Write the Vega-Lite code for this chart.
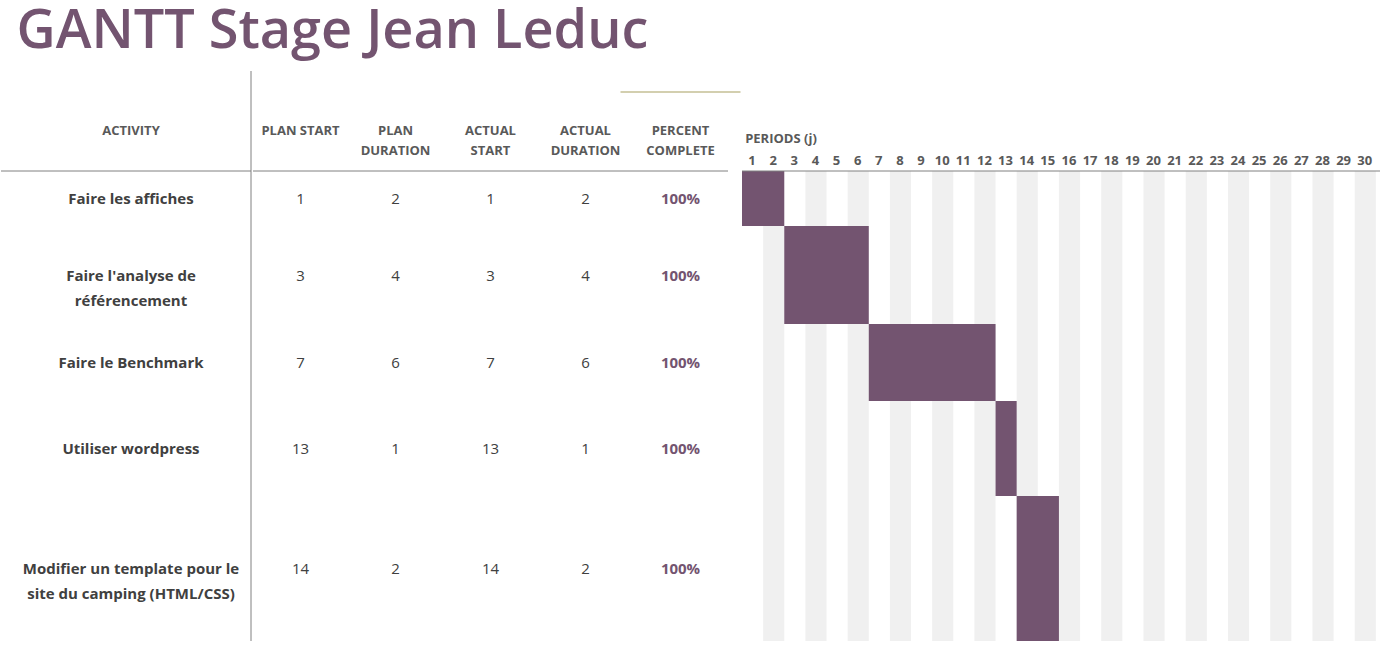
{
  "$schema": "https://vega.github.io/schema/vega-lite/v6.json",
  "padding": {"left": 0, "top": 4, "right": 0, "bottom": 0},
  "background": "white",
  "title": {"text": "GANTT Stage Jean Leduc", "anchor": "start", "fontSize": 54, "font": "Open Sans", "fontWeight": 600, "color": "#735470", "offset": 12, "dx": 16},
  "datasets": {
    "tasks": [
      {"task": "Faire les affiches", "top": 1.0, "bottom": 1.55, "mid": 1.28, "start": 1, "end": 3},
      {"task": "Faire l'analyse de\nréférencement", "top": 1.55, "bottom": 2.53, "mid": 2.05, "start": 3, "end": 7},
      {"task": "Faire le Benchmark", "top": 2.53, "bottom": 3.3, "mid": 2.92, "start": 7, "end": 13},
      {"task": "Utiliser wordpress", "top": 3.3, "bottom": 4.25, "mid": 3.78, "start": 13, "end": 14},
      {"task": "Modifier un template pour le\nsite du camping (HTML/CSS)", "top": 4.25, "bottom": 5.7, "mid": 4.98, "start": 14, "end": 16}
    ],
    "cells": [
      {"col": "PLAN START", "mid": 1.28, "v": "1"}, {"col": "PLAN\nDURATION", "mid": 1.28, "v": "2"}, {"col": "ACTUAL\nSTART", "mid": 1.28, "v": "1"}, {"col": "ACTUAL\nDURATION", "mid": 1.28, "v": "2"}, {"col": "PERCENT\nCOMPLETE", "mid": 1.28, "v": "100%"},
      {"col": "PLAN START", "mid": 2.05, "v": "3"}, {"col": "PLAN\nDURATION", "mid": 2.05, "v": "4"}, {"col": "ACTUAL\nSTART", "mid": 2.05, "v": "3"}, {"col": "ACTUAL\nDURATION", "mid": 2.05, "v": "4"}, {"col": "PERCENT\nCOMPLETE", "mid": 2.05, "v": "100%"},
      {"col": "PLAN START", "mid": 2.92, "v": "7"}, {"col": "PLAN\nDURATION", "mid": 2.92, "v": "6"}, {"col": "ACTUAL\nSTART", "mid": 2.92, "v": "7"}, {"col": "ACTUAL\nDURATION", "mid": 2.92, "v": "6"}, {"col": "PERCENT\nCOMPLETE", "mid": 2.92, "v": "100%"},
      {"col": "PLAN START", "mid": 3.78, "v": "13"}, {"col": "PLAN\nDURATION", "mid": 3.78, "v": "1"}, {"col": "ACTUAL\nSTART", "mid": 3.78, "v": "13"}, {"col": "ACTUAL\nDURATION", "mid": 3.78, "v": "1"}, {"col": "PERCENT\nCOMPLETE", "mid": 3.78, "v": "100%"},
      {"col": "PLAN START", "mid": 4.98, "v": "14"}, {"col": "PLAN\nDURATION", "mid": 4.98, "v": "2"}, {"col": "ACTUAL\nSTART", "mid": 4.98, "v": "14"}, {"col": "ACTUAL\nDURATION", "mid": 4.98, "v": "2"}, {"col": "PERCENT\nCOMPLETE", "mid": 4.98, "v": "100%"}
    ],
    "headers": [
      {"col": "PLAN START"}, {"col": "PLAN\nDURATION"}, {"col": "ACTUAL\nSTART"}, {"col": "ACTUAL\nDURATION"}, {"col": "PERCENT\nCOMPLETE"}
    ],
    "days": [
      {"d": 1, "next": 2, "even": false}, {"d": 2, "next": 3, "even": true}, {"d": 3, "next": 4, "even": false}, {"d": 4, "next": 5, "even": true}, {"d": 5, "next": 6, "even": false},
      {"d": 6, "next": 7, "even": true}, {"d": 7, "next": 8, "even": false}, {"d": 8, "next": 9, "even": true}, {"d": 9, "next": 10, "even": false}, {"d": 10, "next": 11, "even": true},
      {"d": 11, "next": 12, "even": false}, {"d": 12, "next": 13, "even": true}, {"d": 13, "next": 14, "even": false}, {"d": 14, "next": 15, "even": true}, {"d": 15, "next": 16, "even": false},
      {"d": 16, "next": 17, "even": true}, {"d": 17, "next": 18, "even": false}, {"d": 18, "next": 19, "even": true}, {"d": 19, "next": 20, "even": false}, {"d": 20, "next": 21, "even": true},
      {"d": 21, "next": 22, "even": false}, {"d": 22, "next": 23, "even": true}, {"d": 23, "next": 24, "even": false}, {"d": 24, "next": 25, "even": true}, {"d": 25, "next": 26, "even": false},
      {"d": 26, "next": 27, "even": true}, {"d": 27, "next": 28, "even": false}, {"d": 28, "next": 29, "even": true}, {"d": 29, "next": 30, "even": false}, {"d": 30, "next": 31, "even": true}
    ]
  },
  "spacing": 0,
  "hconcat": [
    {
      "width": 250, "height": 570,
      "encoding": {
        "y": {"type": "quantitative", "scale": {"domain": [0, 5.7], "reverse": true, "nice": false, "zero": false}},
        "x": {"type": "quantitative", "scale": {"domain": [0, 1], "nice": false}}
      },
      "layer": [
        {"data": {"values": [{"h": "ACTIVITY"}]}, "mark": {"type": "text", "font": "Open Sans", "fontWeight": "bold", "fontSize": 13, "color": "#595959"},
         "encoding": {"text": {"field": "h"}, "x": {"datum": 0.52}, "y": {"datum": 0.6}}},
        {"data": {"name": "tasks"}, "mark": {"type": "text", "font": "Open Sans", "fontWeight": "bold", "fontSize": 15, "color": "#404040", "lineBreak": "\n", "lineHeight": 25},
         "encoding": {"text": {"field": "task"}, "x": {"datum": 0.52}, "y": {"field": "mid"}}},
        {"data": {"values": [{}]}, "mark": {"type": "rule", "color": "#808080"}, "encoding": {"y": {"datum": 1.0}}},
        {"data": {"values": [{}]}, "mark": {"type": "rule", "color": "#808080"}, "encoding": {"x": {"datum": 1.0}}}
      ]
    },
    {
      "width": 475, "height": 570,
      "encoding": {
        "y": {"type": "quantitative", "scale": {"domain": [0, 5.7], "reverse": true, "nice": false, "zero": false}},
        "x": {"field": "col", "type": "nominal", "sort": ["PLAN START", "PLAN\nDURATION", "ACTUAL\nSTART", "ACTUAL\nDURATION", "PERCENT\nCOMPLETE"], "scale": {"paddingInner": 0, "paddingOuter": 0}}
      },
      "layer": [
        {"data": {"values": [{"col": "PERCENT\nCOMPLETE"}]}, "mark": {"type": "rect", "color": "#a8a060", "width": 120},
         "encoding": {"y": {"datum": 0.205}, "y2": {"datum": 0.215}}},
        {"data": {"name": "headers"}, "mark": {"type": "text", "font": "Open Sans", "fontWeight": "bold", "fontSize": 13, "color": "#595959", "lineBreak": "\n", "lineHeight": 20},
         "encoding": {"text": {"field": "col"}, "y": {"datum": 0.6}}},
        {"data": {"name": "cells"}, "transform": [{"filter": "datum.v != '100%'"}], "mark": {"type": "text", "font": "Open Sans", "fontSize": 15, "color": "#404040"},
         "encoding": {"text": {"field": "v"}, "y": {"field": "mid"}}},
        {"data": {"name": "cells"}, "transform": [{"filter": "datum.v == '100%'"}], "mark": {"type": "text", "font": "Open Sans", "fontSize": 15, "fontWeight": "bold", "color": "#735470"},
         "encoding": {"text": {"field": "v"}, "y": {"field": "mid"}}},
        {"data": {"values": [{}]}, "mark": {"type": "rule", "color": "#808080"}, "encoding": {"y": {"datum": 1.0}, "x": {"value": 0}, "x2": {"value": 475}}}
      ]
    },
    {
      "width": 655, "height": 570,
      "encoding": {
        "y": {"type": "quantitative", "scale": {"domain": [0, 5.7], "reverse": true, "nice": false, "zero": false}},
        "x": {"type": "quantitative", "scale": {"domain": [1, 32], "nice": false, "zero": false}}
      },
      "layer": [
        {"data": {"name": "days"}, "transform": [{"filter": "datum.even"}], "mark": {"type": "rect", "color": "#f0f0f0"},
         "encoding": {"x": {"field": "d"}, "x2": {"field": "next"}, "y": {"datum": 1.0}, "y2": {"datum": 5.7}}},
        {"data": {"name": "tasks"}, "mark": {"type": "rect", "color": "#735470"},
         "encoding": {"x": {"field": "start"}, "x2": {"field": "end"}, "y": {"field": "top"}, "y2": {"field": "bottom"}}},
        {"data": {"name": "days"}, "mark": {"type": "text", "font": "Open Sans", "fontWeight": "bold", "fontSize": 13, "color": "#595959", "dx": 10},
         "encoding": {"text": {"field": "d"}, "x": {"field": "d"}, "y": {"datum": 0.9}}},
        {"data": {"values": [{"h": "PERIODS (j)"}]}, "mark": {"type": "text", "font": "Open Sans", "fontWeight": "bold", "fontSize": 13, "color": "#595959", "align": "left"},
         "encoding": {"text": {"field": "h"}, "x": {"datum": 1.15}, "y": {"datum": 0.68}}},
        {"data": {"values": [{}]}, "mark": {"type": "rule", "color": "#808080"}, "encoding": {"y": {"datum": 1.0}, "x": {"value": 0}, "x2": {"value": 655}}}
      ]
    }
  ],
  "config": {
    "view": {"stroke": null},
    "axis": {"disable": true}
  }
}
